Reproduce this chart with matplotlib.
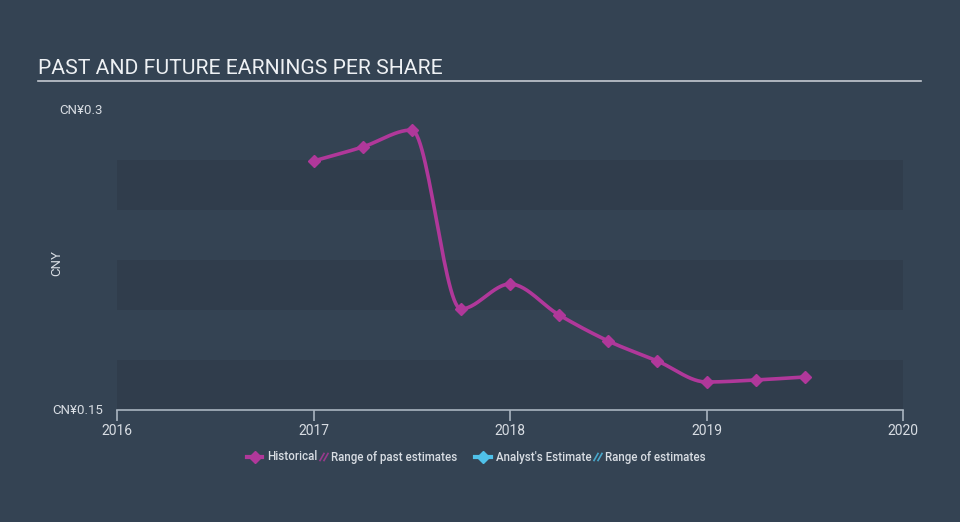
import numpy as np
import matplotlib
matplotlib.use('Agg')
import matplotlib.pyplot as plt
from matplotlib.lines import Line2D

plt.rcParams['font.family'] = ['Roboto', 'DejaVu Sans']

# ── data ────────────────────────────────────────────────────────────────
years = [2017.0, 2017.25, 2017.5, 2017.75, 2018.0, 2018.25, 2018.5, 2018.75,
         2019.0, 2019.25, 2019.5]
eps = [0.2745, 0.2815, 0.290, 0.2005, 0.213, 0.1975, 0.1845, 0.1745,
       0.164, 0.165, 0.1665]
x_ticks = [2016, 2017, 2018, 2019, 2020]
y_ticks = [0.15, 0.3]
y_labels = ['CN¥0.15', 'CN¥0.3']

BG = '#344353'
BAND = '#303d4c'
LINE = '#b0389a'
CYAN = '#4fc1e9'
TXT = '#d8dde3'


def monotone(x, y, n=30):
    # monotone cubic (like d3 curveMonotoneX), only for drawing the line
    x = np.asarray(x, float)
    y = np.asarray(y, float)
    h = np.diff(x)
    s = np.diff(y) / h
    m = np.zeros_like(y)
    for i in range(1, len(y) - 1):
        if s[i - 1] * s[i] <= 0:
            m[i] = 0
        else:
            p = (s[i - 1] * h[i] + s[i] * h[i - 1]) / (h[i - 1] + h[i])
            m[i] = np.sign(s[i - 1]) * min(abs(s[i - 1]), abs(s[i]), 0.5 * abs(p)) * 2
    m[0] = s[0]
    m[-1] = s[-1]
    xs, ys = [], []
    for i in range(len(h)):
        t = np.linspace(0, 1, n)
        h00 = 2 * t**3 - 3 * t**2 + 1
        h10 = t**3 - 2 * t**2 + t
        h01 = -2 * t**3 + 3 * t**2
        h11 = t**3 - t**2
        xs.extend(x[i] + t * h[i])
        ys.extend(h00 * y[i] + h10 * h[i] * m[i] + h01 * y[i + 1] + h11 * h[i] * m[i + 1])
    return np.array(xs), np.array(ys)


fig = plt.figure(figsize=(9.6, 5.22), dpi=100, facecolor=BG)
ax = fig.add_axes([117 / 960, 1 - 410 / 522, 786 / 960, 300 / 522])
ax.set_facecolor(BG)
ax.set_xlim(2016, 2020)
ax.set_ylim(0.15, 0.3)

for lo in (0.15, 0.2, 0.25):
    ax.axhspan(lo, lo + 0.025, color=BAND, lw=0, zorder=0)

xs, ys = monotone(years, eps)
ax.plot(xs, ys, color=LINE, lw=2.6, zorder=3, solid_capstyle='round')
ax.plot(years, eps, ls='none', marker='D', ms=6.2, color=LINE, zorder=4)

for sp in ('top', 'right', 'left'):
    ax.spines[sp].set_visible(False)
ax.spines['bottom'].set_color('#a9b4c0')
ax.spines['bottom'].set_linewidth(1.2)
ax.set_xticks(x_ticks)
ax.set_xticklabels([str(t) for t in x_ticks])
ax.tick_params(axis='x', colors='#a9b4c0', labelcolor=TXT, length=8, width=1.2,
               labelsize=10, pad=2)
ax.set_yticks([])

for v, lab in zip(y_ticks, y_labels):
    fig.text(103 / 960, 1 - (110 + (0.3 - v) * 2000) / 522, lab, ha='right', va='center',
             color=TXT, fontsize=9.5)
fig.text(57 / 960, 1 - 263 / 522, 'CNY', rotation=90, ha='center', va='center',
         color=TXT, fontsize=9.5)

# title
fig.text(38 / 960, 1 - 69 / 522, 'PAST AND FUTURE EARNINGS PER SHARE', ha='left', va='center',
         color='#eef1f4', fontsize=15.2)
fig.add_artist(Line2D([38 / 960, 921 / 960], [1 - 81 / 522, 1 - 81 / 522],
                      color='#c3c9d0', lw=1.2))

# legend, drawn in a pixel-sized overlay axes
lax = fig.add_axes([0, 0, 1, 1], facecolor='none')
lax.set_xlim(0, 960)
lax.set_ylim(522, 0)
lax.axis('off')
ly = 457


def hatch_icon(x0, col):
    for dx in (0, 4):
        lax.plot([x0 + dx, x0 + dx + 4], [ly + 3.5, ly - 3.5], color=col, lw=1.2, alpha=0.8)


lax.plot([247, 262], [ly, ly], color=LINE, lw=3)
lax.plot([255], [ly], color=LINE, marker='D', ms=6, ls='none')
lax.text(267, ly, 'Historical', color=TXT, fontsize=8.3, va='center', fontweight='medium')
hatch_icon(320, LINE)
lax.text(331, ly, 'Range of past estimates', color=TXT, fontsize=8.3, va='center',
         fontweight='medium')
lax.plot([475, 491], [ly, ly], color=CYAN, lw=3)
lax.plot([483], [ly], color=CYAN, marker='D', ms=6, ls='none')
lax.text(496, ly, "Analyst's Estimate", color=TXT, fontsize=8.3, va='center',
         fontweight='medium')
hatch_icon(594, CYAN)
lax.text(605, ly, 'Range of estimates', color=TXT, fontsize=8.3, va='center',
         fontweight='medium')

fig.savefig('out.png', dpi=100, facecolor=BG)
